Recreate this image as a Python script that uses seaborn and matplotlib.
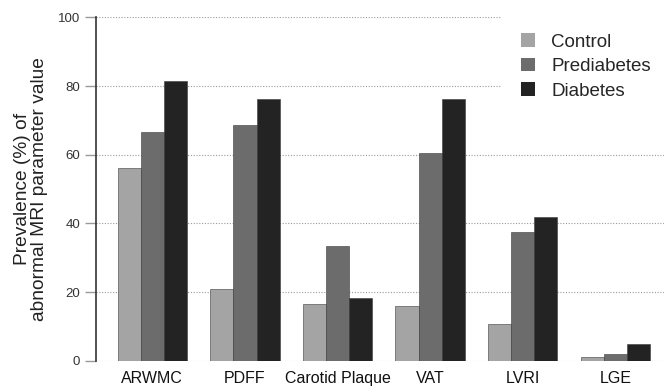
import matplotlib
matplotlib.use("Agg")
import matplotlib.pyplot as plt
import seaborn as sns
import pandas as pd

# Prevalence (%) of abnormal MRI parameter values by glycaemic group
categories = ["ARWMC", "PDFF", "Carotid Plaque", "VAT", "LVRI", "LGE"]
groups = ["Control", "Prediabetes", "Diabetes"]
control = [56.0, 21.0, 16.5, 15.8, 10.8, 1.2]
prediabetes = [66.6, 68.7, 33.3, 60.5, 37.4, 2.0]
diabetes = [81.5, 76.2, 18.4, 76.2, 41.9, 5.0]
yticks = [0, 20, 40, 60, 80, 100]

df = pd.DataFrame({
    "Parameter": categories * 3,
    "Group": [groups[0]] * 6 + [groups[1]] * 6 + [groups[2]] * 6,
    "Prevalence": control + prediabetes + diabetes,
})

sns.set_theme(style="white")
plt.rcParams["font.family"] = ["Liberation Sans", "DejaVu Sans"]

fig = plt.figure(figsize=(6.64, 3.86), dpi=100)
ax = fig.add_axes([0.144, 0.0655, 0.95, 0.8895])

palette = {"Control": "#a4a4a4", "Prediabetes": "#6c6c6c", "Diabetes": "#232323"}
sns.barplot(data=df, x="Parameter", y="Prevalence", hue="Group",
            order=categories, hue_order=groups, palette=palette,
            width=0.75, saturation=1, edgecolor="#3a3a3a", linewidth=0.4,
            ax=ax, zorder=3)

ax.set_ylim(0, 100)
ax.set_xlim(-0.613, 6.2)
ax.set_yticks(yticks)
ax.set_yticklabels([str(t) for t in yticks], fontsize=9.5, color="#333333")
ax.tick_params(axis="y", left=True, length=8, width=1, color="#999999", pad=3)
ax.tick_params(axis="x", bottom=False, labelsize=11.5, pad=1.5, labelcolor="#111111")
ax.set_xlabel("")
ax.set_ylabel("Prevalence (%) of\nabnormal MRI parameter value",
              fontsize=13.8, color="#222222", labelpad=7, linespacing=1.0)

for t in yticks:
    ax.axhline(t, color="#9a9a9a", linestyle=(0, (1, 1.5)), linewidth=0.8, zorder=1)

for s in ["top", "right", "bottom"]:
    ax.spines[s].set_visible(False)
ax.spines["left"].set_color("#333333")
ax.spines["left"].set_linewidth(1.2)

leg = ax.legend(loc="upper left", bbox_to_anchor=(0.630, 1.036), fontsize=13.5,
                frameon=True, fancybox=False, edgecolor="white", framealpha=1,
                handlelength=0.75, handleheight=0.75, handletextpad=0.85,
                labelspacing=0.38, borderpad=1.0, title=None)
for h in leg.legend_handles:
    h.set_edgecolor("none")

fig.savefig("out.png", dpi=100)
